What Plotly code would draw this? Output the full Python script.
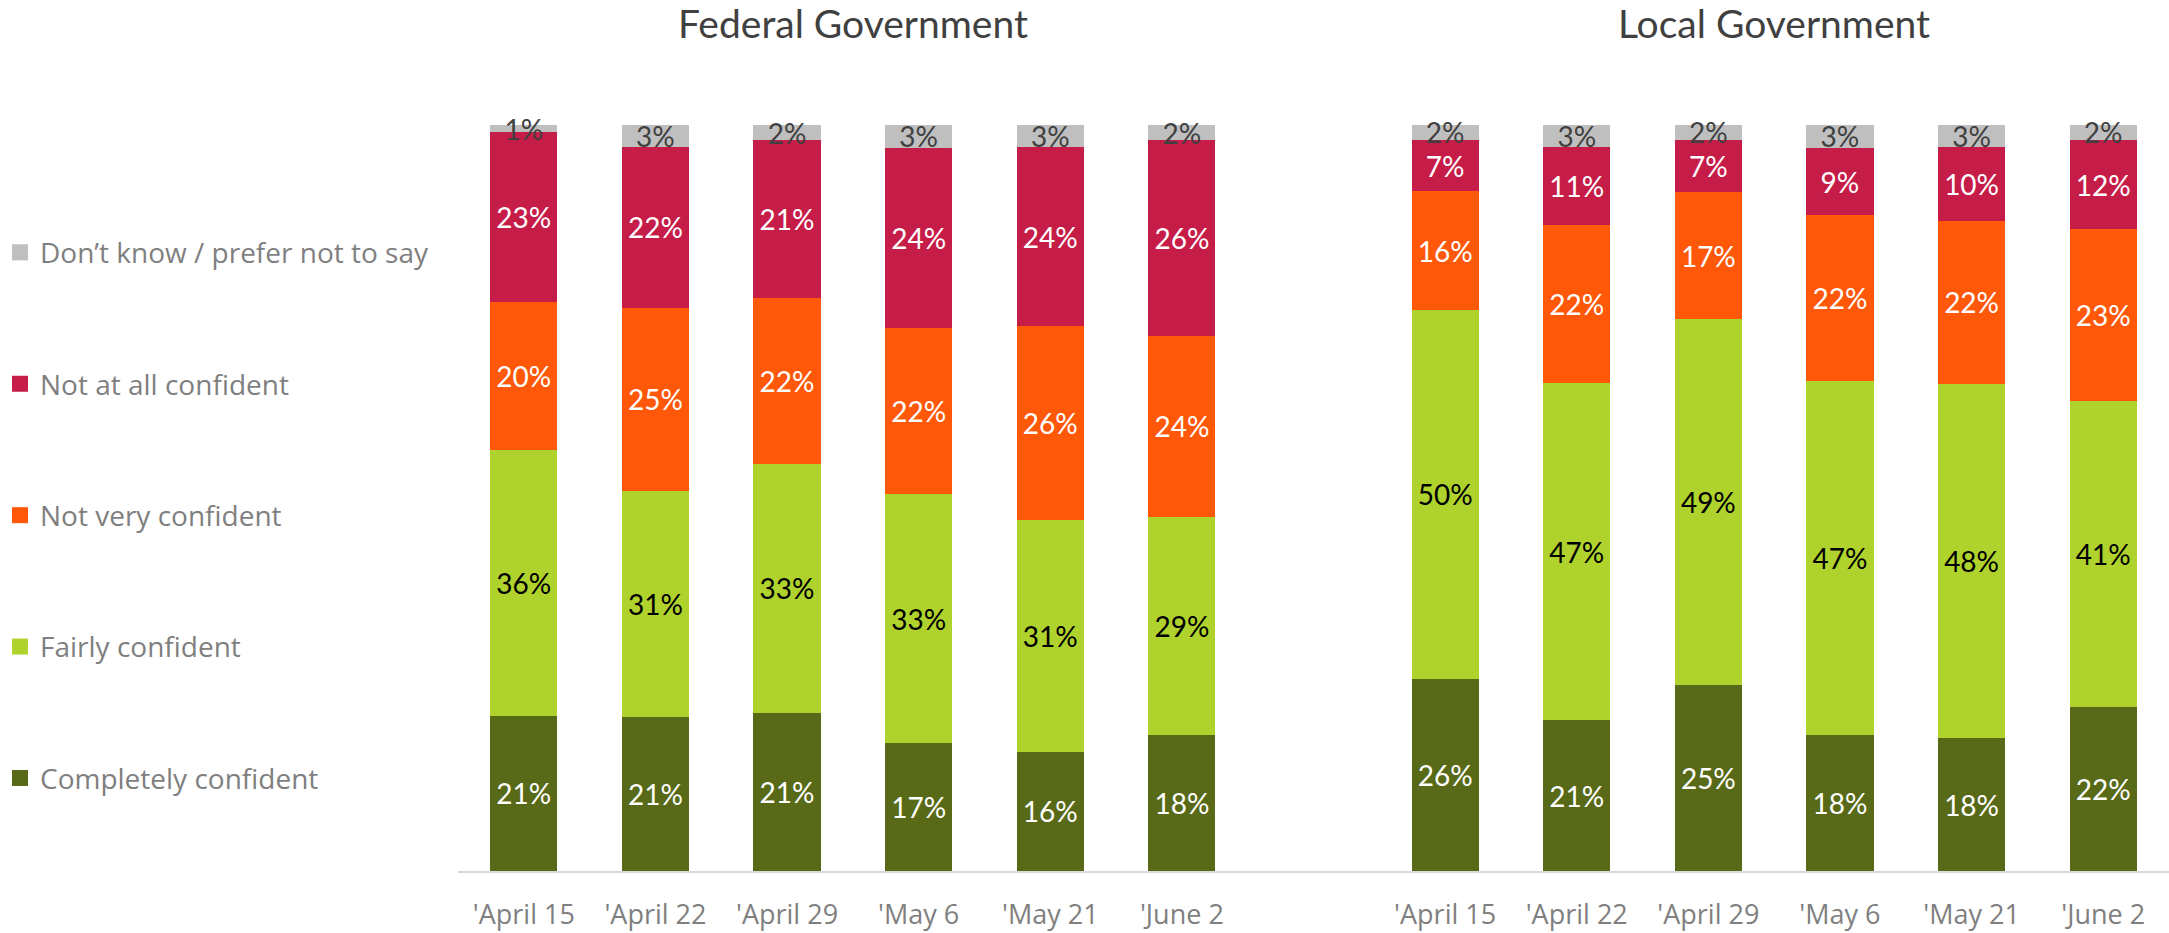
import plotly.graph_objects as go

# Survey waves, shown once per panel
waves = ["'April 15", "'April 22", "'April 29", "'May 6", "'May 21", "'June 2"]
panels = ["Federal Government", "Local Government"]

# Confidence responses (%), bottom of stack first
categories = [
    "Completely confident",
    "Fairly confident",
    "Not very confident",
    "Not at all confident",
    "Don\u2019t know / prefer not to say",
]

federal_completely = [21, 21, 21, 17, 16, 18]
federal_fairly = [36, 31, 33, 33, 31, 29]
federal_not_very = [20, 25, 22, 22, 26, 24]
federal_not_at_all = [23, 22, 21, 24, 24, 26]
federal_dont_know = [1, 3, 2, 3, 3, 2]

local_completely = [26, 21, 25, 18, 18, 22]
local_fairly = [50, 47, 49, 47, 48, 41]
local_not_very = [16, 22, 17, 22, 22, 23]
local_not_at_all = [7, 11, 7, 9, 10, 12]
local_dont_know = [2, 3, 2, 3, 3, 2]

federal = [federal_completely, federal_fairly, federal_not_very,
           federal_not_at_all, federal_dont_know]
local = [local_completely, local_fairly, local_not_very,
         local_not_at_all, local_dont_know]

colors = ["#586A17", "#AFD22D", "#FF5809", "#C61C48", "#BFBFBF"]
label_colors = ["#FFFFFF", "#000000", "#FFFFFF", "#FFFFFF", "#404040"]

# Federal bars at slots 0-5, local at 7-12, one empty slot between panels
fed_x = list(range(len(waves)))
loc_x = [i + len(waves) + 1 for i in range(len(waves))]
x_all = fed_x + loc_x

LABEL_FONT = "Lato, 'Open Sans', sans-serif"
AXIS_FONT = "'Open Sans', 'Noto Sans', sans-serif"

fig = go.Figure()
n_cat = len(categories)
for i, (cat, fv, lv, col, lcol) in enumerate(
        zip(categories, federal, local, colors, label_colors)):
    vals = fv + lv
    fig.add_trace(go.Bar(
        name=cat,
        x=x_all,
        y=vals,
        text=[f"{v}%" for v in vals],
        textposition="inside",
        insidetextanchor="middle",
        textangle=0,
        constraintext="none",
        cliponaxis=False,
        textfont=dict(family=LABEL_FONT, size=28, color=lcol),
        marker=dict(color=col, line=dict(width=0)),
        width=0.51,
        legendgroup=cat,
        showlegend=False,
        hovertemplate="%{text}<extra>" + cat + "</extra>",
    ))
    # Legend key: a larger square swatch tied to the bar series
    fig.add_trace(go.Scatter(
        name=cat,
        x=[None],
        y=[None],
        mode="markers",
        marker=dict(symbol="square", size=16, color=col, line=dict(width=0)),
        legendgroup=cat,
        legendrank=n_cat - i,  # top of the stack listed first
        hoverinfo="skip",
    ))

fig.update_layout(
    width=2169,
    height=933,
    barmode="stack",
    barnorm="percent",
    paper_bgcolor="white",
    plot_bgcolor="white",
    margin=dict(l=458, r=0, t=125, b=62),
    showlegend=True,
    legend=dict(
        traceorder="grouped",
        tracegroupgap=92,
        xref="container",
        yref="container",
        x=0.0,
        xanchor="left",
        y=0.756,
        yanchor="top",
        maxheight=900,
        font=dict(family=AXIS_FONT, size=28, color="#7F7F7F"),
        bgcolor="rgba(0,0,0,0)",
        itemclick=False,
        itemdoubleclick=False,
    ),
    xaxis=dict(
        range=[-0.5, 12.5],
        tickmode="array",
        tickvals=x_all,
        ticktext=waves + waves,
        ticks="outside",
        ticklen=19,
        tickcolor="rgba(0,0,0,0)",
        tickfont=dict(family=AXIS_FONT, size=27, color="#7F7F7F"),
        showgrid=False,
        zeroline=False,
        showline=True,
        linecolor="#D9D9D9",
        linewidth=2,
        fixedrange=True,
    ),
    yaxis=dict(
        range=[0, 100],
        visible=False,
        showgrid=False,
        zeroline=False,
        fixedrange=True,
    ),
)

# Panel headings centred over each group of bars
panel_centres = [sum(fed_x) / len(fed_x), sum(loc_x) / len(loc_x)]
for title, xc in zip(panels, panel_centres):
    fig.add_annotation(
        text=title,
        x=xc,
        xref="x",
        y=1.137,
        yref="paper",
        xanchor="center",
        yanchor="middle",
        showarrow=False,
        font=dict(family=LABEL_FONT, size=39, color="#404040"),
    )

fig.write_html("out.html")
